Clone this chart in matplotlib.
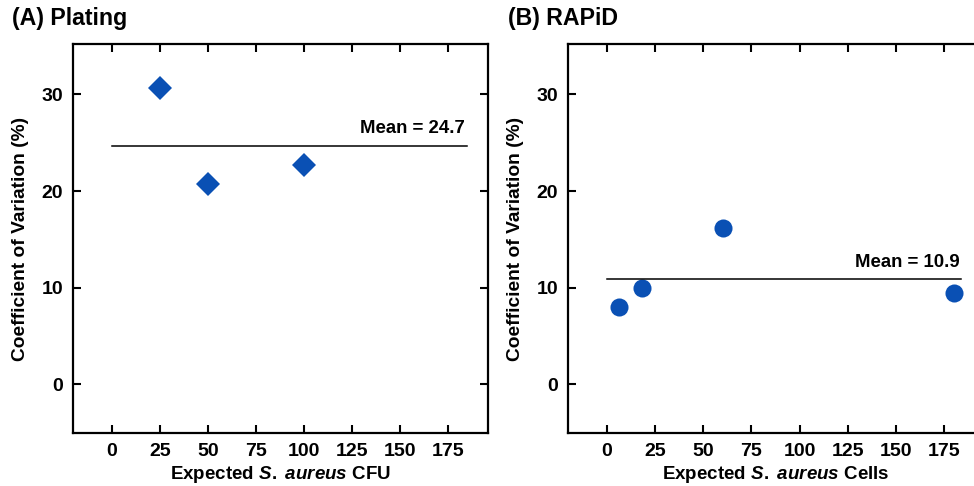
import matplotlib
matplotlib.use('Agg')
import matplotlib.pyplot as plt

plt.rcParams['font.family'] = ['Liberation Sans', 'DejaVu Sans']
plt.rcParams['font.weight'] = 'bold'
plt.rcParams['axes.labelweight'] = 'bold'
plt.rcParams['mathtext.fontset'] = 'custom'
plt.rcParams['mathtext.it'] = 'Liberation Sans:italic:bold'
plt.rcParams['mathtext.rm'] = 'Liberation Sans:bold'

# plating (CFU) data
plating_x = [25, 50, 100]
plating_cv = [30.7, 20.7, 22.7]
plating_mean = 24.7

# RAPiD (cells) data
rapid_x = [6, 18, 60, 180]
rapid_cv = [8.0, 10.0, 16.2, 9.4]
rapid_mean = 10.9

xticks = [0, 25, 50, 75, 100, 125, 150, 175]
yticks = [0, 10, 20, 30]
blue = '#0a50b4'

fig = plt.figure(figsize=(9.74, 4.86), dpi=100)
ax1 = fig.add_axes([0.0749, 0.109, 0.4261, 0.800])
ax2 = fig.add_axes([0.5832, 0.109, 0.4271, 0.800])


def style(ax, xlabel):
    ax.set_xlim(-20.3, 195.8)
    ax.set_ylim(-5.05, 35.2)
    ax.set_xticks(xticks)
    ax.set_yticks(yticks)
    ax.tick_params(direction='in', length=6, width=1.5, labelsize=14,
                   top=True, right=True, pad=7)
    for s in ax.spines.values():
        s.set_linewidth(1.6)
    ax.set_xlabel(xlabel, fontsize=13.5, labelpad=3)
    ax.set_ylabel('Coefficient of Variation (%)', fontsize=13.8, labelpad=9)


ax1.plot(plating_x, plating_cv, 'D', color=blue, markersize=12.5, markeredgewidth=0)
ax1.plot([0, 185], [plating_mean, plating_mean], color='black', lw=1.1)
ax1.annotate('Mean = %.1f' % plating_mean, (184, plating_mean), xytext=(0, 6),
             textcoords='offset points', ha='right', va='bottom', fontsize=13.4)
style(ax1, r'Expected $\it{S.}$ $\it{aureus}$ CFU')

ax2.plot(rapid_x, rapid_cv, 'o', color=blue, markersize=13, markeredgewidth=0)
ax2.plot([0, 184], [rapid_mean, rapid_mean], color='black', lw=1.1)
ax2.annotate('Mean = %.1f' % rapid_mean, (183, rapid_mean), xytext=(0, 6),
             textcoords='offset points', ha='right', va='bottom', fontsize=13.4)
style(ax2, r'Expected $\it{S.}$ $\it{aureus}$ Cells')

fig.text(12 / 974, 1 - 18 / 486, '(A) Plating', fontsize=16.7, va='center', ha='left')
fig.text(508 / 974, 1 - 18 / 486, '(B) RAPiD', fontsize=16.7, va='center', ha='left')

fig.savefig('out.png', dpi=100)
